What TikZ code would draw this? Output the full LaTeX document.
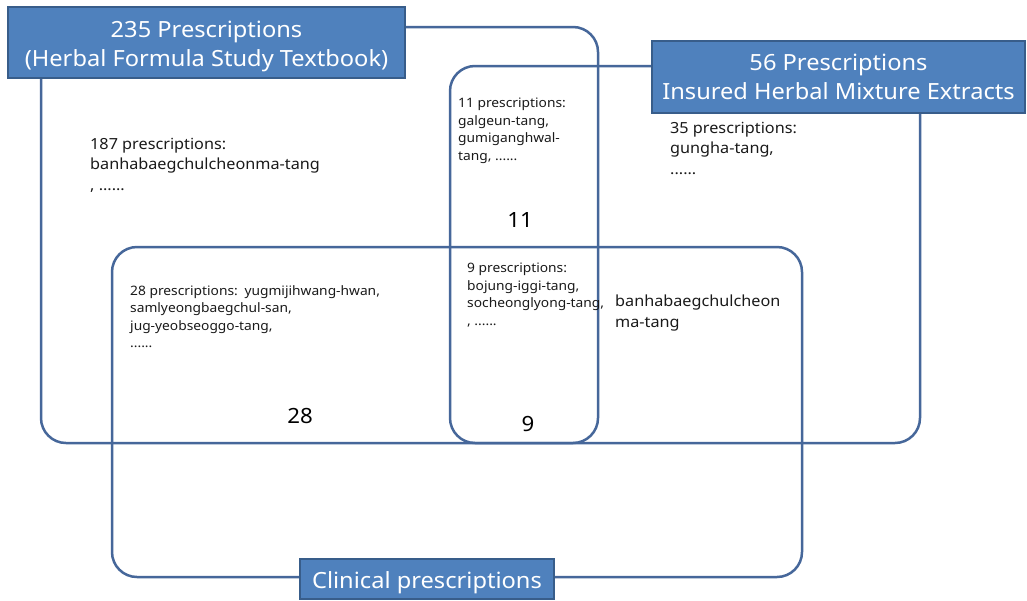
\documentclass[tikz,border=0pt]{standalone}
\usepackage{fontspec}
\setmainfont[FakeStretch=1.06]{Noto Sans}
\definecolor{boxfill}{HTML}{4F81BD}
\definecolor{boxline}{HTML}{385D8A}
\definecolor{setline}{HTML}{46679A}
\definecolor{txt}{HTML}{1A1A1A}
\newcommand{\lowerby}[2]{\raisebox{-#1}[\height][\depth]{#2}}
\begin{document}
\begin{tikzpicture}[x=1pt,y=-1pt,
  setbox/.style={draw=setline, line width=2.5pt, rounded corners=25pt, inner sep=0pt},
  titlebox/.style={draw=boxline, fill=boxfill, line width=2pt, text=white, align=center, inner sep=0pt, font=\fontsize{22.3}{29}\selectfont},
  smalltxt/.style={anchor=north west, align=left, inner sep=0pt, text=txt, font=\fontsize{13}{17.5}\selectfont},
  midtxt/.style={anchor=north west, align=left, inner sep=0pt, text=txt, font=\fontsize{15.3}{20.5}\selectfont},
  numtxt/.style={inner sep=0pt, text=black, font=\fontsize{21}{24}\selectfont}]
\useasboundingbox (0,0) rectangle (1027,600);
\fill[white] (0,0) rectangle (1027,600);
% sets
\node[setbox, minimum width=557pt, minimum height=416pt] (textbook) at (319.5,235) {};
\node[setbox, minimum width=470pt, minimum height=377pt] (insured) at (685,254.5) {};
\node[setbox, minimum width=690pt, minimum height=330pt] (clinical) at (457,412) {};
% title boxes
\node[titlebox, minimum width=397pt, minimum height=71pt] (t1) at (206.5,42.5) {\lowerby{4pt}{\begin{tabular}{@{}c@{}}235 Prescriptions\\(Herbal Formula Study Textbook)\end{tabular}}};
\node[titlebox, minimum width=373pt, minimum height=72pt] (t2) at (838.5,77) {56 Prescriptions\\Insured Herbal Mixture Extracts};
\node[titlebox, minimum width=254pt, minimum height=40pt] (t3) at (427,579) {\lowerby{4pt}{Clinical prescriptions}};
% region texts
\node[midtxt] (r187) at (90,138) {187 prescriptions:\\banhabaegchulcheonma-tang\\, \textbf{......}};
\node[smalltxt] (r11) at (458,98) {11 prescriptions:\\galgeun-tang,\\gumiganghwal-\\tang, \textbf{......}};
\node[midtxt] (r35) at (670,122) {35 prescriptions:\\gungha-tang,\\\textbf{......}};
\node[smalltxt] (r28) at (130,285) {28 prescriptions:\hspace{2pt} yugmijihwang-hwan,\\samlyeongbaegchul-san,\\jug-yeobseoggo-tang,\\\textbf{......}};
\node[smalltxt] (r9) at (467,263) {9 prescriptions:\\bojung-iggi-tang,\\socheonglyong-tang,\\, \textbf{......}};
\node[midtxt] (rbh) at (615,295) {banhabaegchulcheon\\ma-tang};
% numbers
\node[numtxt] (n11) at (520,220) {11};
\node[numtxt] (n28) at (300,416) {28};
\node[numtxt] (n9) at (528,424) {9};
\end{tikzpicture}
\end{document}
